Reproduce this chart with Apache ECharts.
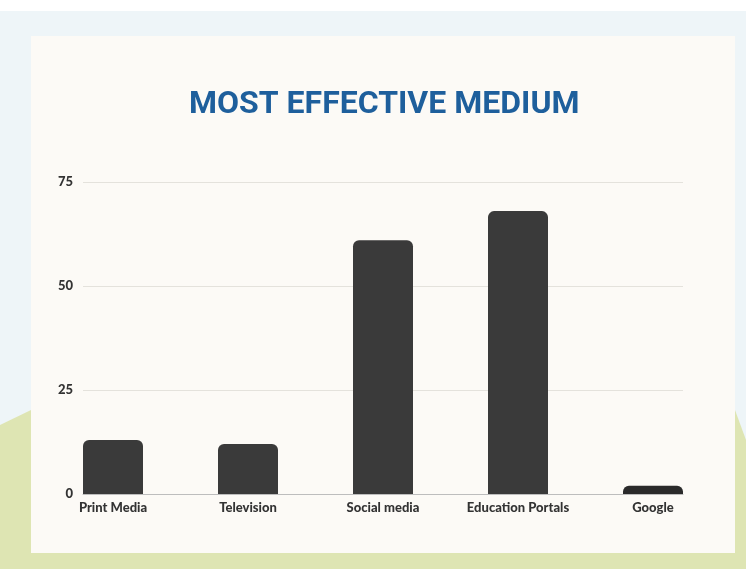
<!DOCTYPE html>
<html>
<head>
<meta charset="utf-8">
<script src="https://cdn.jsdelivr.net/npm/echarts@6/dist/echarts.min.js"></script>
<style>
  html, body { margin: 0; padding: 0; }
  #main { width: 746px; height: 569px; }
</style>
</head>
<body>
<div id="main"></div>
<script>
// values
var categories = ['Print Media', 'Television', 'Social media', 'Education Portals', 'Google'];
var values = [13, 12, 61, 68, 2];
var yTicks = [0, 25, 50, 75];

var chart = echarts.init(document.getElementById('main'));

var option = {
    backgroundColor: '#eef5f8',
    animation: false,
    graphic: [
        { type: 'rect', z: -10, shape: { x: 0, y: 0, width: 746, height: 11 }, style: { fill: '#ffffff' } },
        { type: 'polygon', z: -10, shape: { points: [[0, 425], [31, 410], [735, 410], [746, 440], [746, 569], [0, 569]] }, style: { fill: '#dee5b3' } },
        { type: 'rect', z: -9, shape: { x: 31, y: 36, width: 704, height: 517 }, style: { fill: '#fcfaf6' } }
    ],
    title: {
        text: 'MOST EFFECTIVE MEDIUM',
        left: 184,
        top: 84,
        textStyle: {
            color: '#1e5f9c',
            fontFamily: 'Roboto',
            fontWeight: 'bold',
            fontSize: 32
        }
    },
    grid: [
        { left: 45.5, width: 675, top: 182, height: 312 },
        { left: 83, width: 600, top: 182, height: 312 }
    ],
    xAxis: [
        {
            type: 'category',
            gridIndex: 0,
            data: categories,
            axisLine: { show: false },
            axisTick: { show: false },
            axisLabel: {
                margin: 7,
                color: '#333333',
                fontFamily: 'Lato',
                fontWeight: 900,
                fontSize: 13
            }
        },
        {
            type: 'value',
            gridIndex: 1,
            min: 0,
            max: 1,
            axisLine: { show: true, lineStyle: { color: '#bdbdbd', width: 1 } },
            axisTick: { show: false },
            axisLabel: { show: false },
            splitLine: { show: false }
        }
    ],
    yAxis: [
        { type: 'value', gridIndex: 0, min: 0, max: 75, show: false },
        {
            type: 'value',
            gridIndex: 1,
            min: 0,
            max: 75,
            interval: 25,
            axisLine: { show: false },
            axisTick: { show: false },
            axisLabel: {
                margin: 10,
                color: '#333333',
                fontFamily: 'Lato',
                fontWeight: 900,
                fontSize: 13,
                formatter: function (v) { return yTicks.indexOf(v) >= 0 ? String(v) : ''; }
            },
            splitLine: { show: true, lineStyle: { color: '#e4e2dc', width: 1 } }
        }
    ],
    series: [
        {
            type: 'bar',
            xAxisIndex: 0,
            yAxisIndex: 0,
            data: values,
            barWidth: 60,
            z: 5,
            itemStyle: {
                color: function (p) { return p.dataIndex === 4 ? '#2a2a2a' : '#3a3a3a'; },
                borderRadius: [6, 6, 0, 0]
            }
        }
    ]
};

chart.setOption(option);
</script>
</body>
</html>
